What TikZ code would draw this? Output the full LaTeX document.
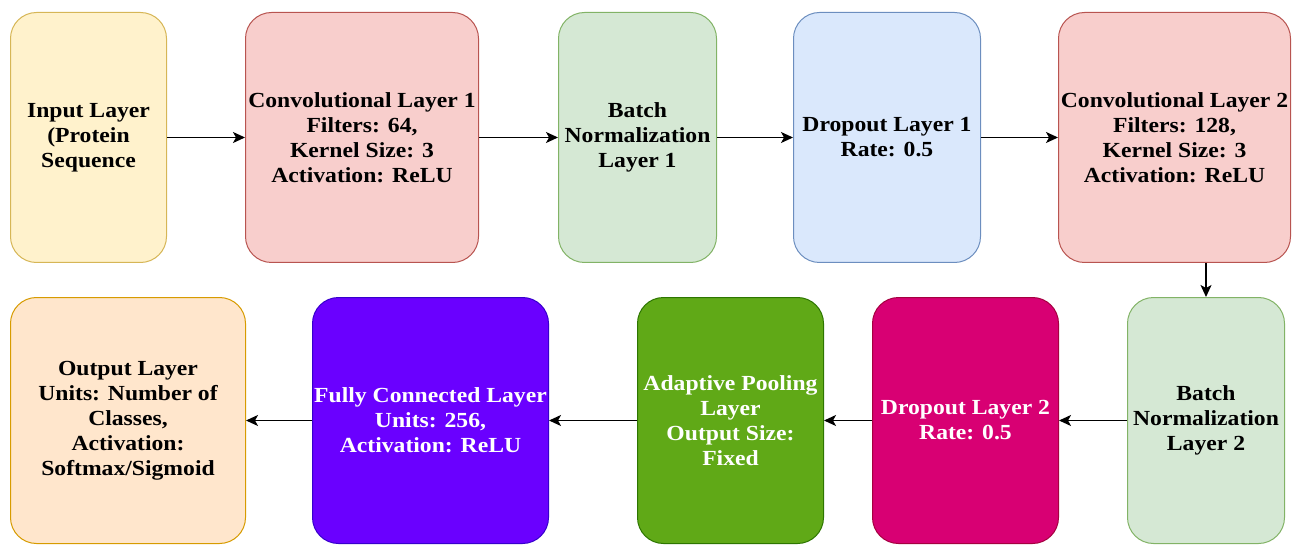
\documentclass[tikz,border=0pt]{standalone}
\usepackage{fontspec}
\setmainfont{Liberation Serif}[FakeStretch=1.1]
\usetikzlibrary{arrows.meta}
\definecolor{inF}{HTML}{FFF2CC}\definecolor{inD}{HTML}{D6B656}
\definecolor{cvF}{HTML}{F8CECC}\definecolor{cvD}{HTML}{B85450}
\definecolor{bnF}{HTML}{D5E8D4}\definecolor{bnD}{HTML}{82B366}
\definecolor{doF}{HTML}{DAE8FC}\definecolor{doD}{HTML}{6C8EBF}
\definecolor{ouF}{HTML}{FFE6CC}\definecolor{ouD}{HTML}{D79B00}
\definecolor{fcF}{HTML}{6A00FF}\definecolor{fcD}{HTML}{3700CC}
\definecolor{apF}{HTML}{60A917}\definecolor{apD}{HTML}{2D7600}
\definecolor{d2F}{HTML}{D80073}\definecolor{d2D}{HTML}{A50040}
\tikzset{
  layerbox/.style={rectangle, rounded corners=26pt, line width=1pt, align=center,
    inner sep=0pt, font=\fontsize{21.5}{25}\selectfont\bfseries, anchor=north west},
  flow/.style={-{Stealth[length=12pt,width=11pt,inset=3pt]}, line width=1.5pt, black},
}
\begin{document}
\begin{tikzpicture}[x=1pt,y=-1pt]
\useasboundingbox (0,0) rectangle (1295,545);
% row 1
\node[layerbox, fill=inF, draw=inD, minimum width=156pt, minimum height=250pt] (in) at (10,12) {Input Layer\\(Protein\\Sequence};
\node[layerbox, fill=cvF, draw=cvD, minimum width=233pt, minimum height=250pt] (c1) at (245,12) {Convolutional Layer 1\\Filters: 64,\\Kernel Size: 3\\Activation: ReLU};
\node[layerbox, fill=bnF, draw=bnD, minimum width=158pt, minimum height=250pt] (b1) at (558,12) {Batch\\Normalization\\Layer 1};
\node[layerbox, fill=doF, draw=doD, minimum width=187pt, minimum height=250pt] (d1) at (793,12) {Dropout Layer 1\\Rate: 0.5};
\node[layerbox, fill=cvF, draw=cvD, minimum width=232pt, minimum height=250pt] (c2) at (1058,12) {Convolutional Layer 2\\Filters: 128,\\Kernel Size: 3\\Activation: ReLU};
% row 2
\node[layerbox, fill=ouF, draw=ouD, minimum width=235pt, minimum height=246pt] (out) at (10,297) {Output Layer\\Units: Number of\\Classes,\\Activation:\\Softmax/Sigmoid};
\node[layerbox, fill=fcF, draw=fcD, text=white, minimum width=236pt, minimum height=246pt] (fc) at (312,297) {Fully Connected Layer\\Units: 256,\\Activation: ReLU};
\node[layerbox, fill=apF, draw=apD, text=white, minimum width=186pt, minimum height=246pt] (ap) at (637,297) {Adaptive Pooling\\Layer\\Output Size:\\Fixed};
\node[layerbox, fill=d2F, draw=d2D, text=white, minimum width=186pt, minimum height=246pt] (d2) at (872,297) {Dropout Layer 2\\Rate: 0.5};
\node[layerbox, fill=bnF, draw=bnD, minimum width=157pt, minimum height=246pt] (b2) at (1127,297) {Batch\\Normalization\\Layer 2};
% connectors
\draw[flow] (in.east) -- (c1.west);
\draw[flow] (c1.east) -- (b1.west);
\draw[flow] (b1.east) -- (d1.west);
\draw[flow] (d1.east) -- (c2.west);
\draw[flow] (c2.south -| b2.north) -- (b2.north);
\draw[flow] (b2.west) -- (d2.east);
\draw[flow] (d2.west) -- (ap.east);
\draw[flow] (ap.west) -- (fc.east);
\draw[flow] (fc.west) -- (out.east);
\end{tikzpicture}
\end{document}
